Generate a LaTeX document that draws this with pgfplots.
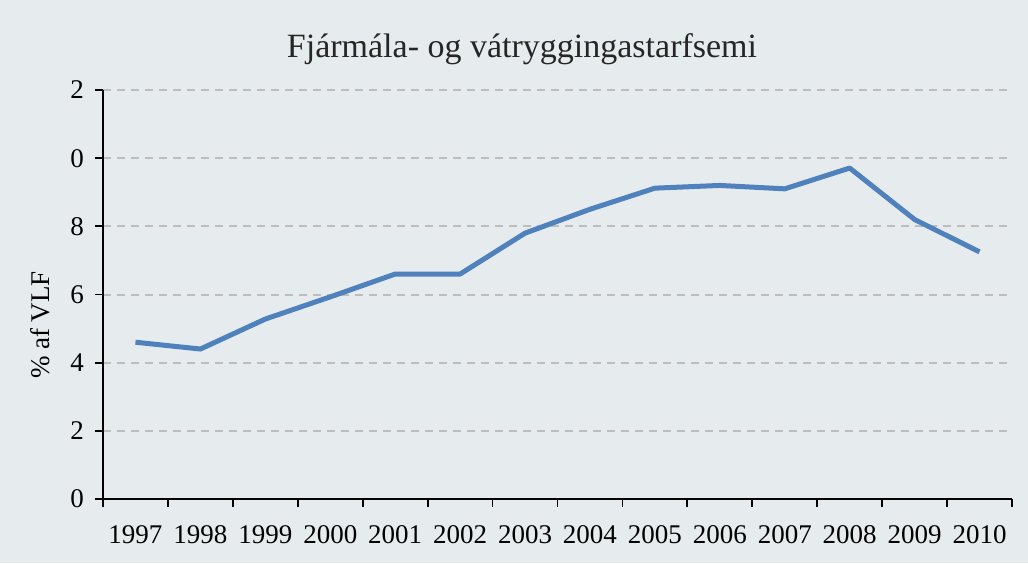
\documentclass[border=0pt]{standalone}
\usepackage{pgfplots}
\pgfplotsset{compat=1.18}
\usepackage{fontspec}
\setmainfont{Liberation Serif}
\definecolor{bg}{HTML}{E6EBEE}
\definecolor{line}{HTML}{4F81BD}
\definecolor{gridc}{HTML}{BDBDBD}

\begin{document}
\begin{tikzpicture}
\fill[bg] (-51.5pt,-32pt) rectangle (462.5pt,249.5pt);
\path[use as bounding box] (-51.5pt,-32pt) rectangle (462.5pt,249.5pt);
\begin{axis}[
    at={(0,0)}, anchor=south west,
    width=454.5pt, height=204.5pt,
    scale only axis,
    xmin=-0.5, xmax=13.5,
    ymin=0, ymax=12,
    axis x line*=bottom,
    axis y line*=left,
    axis line style={black, line width=0.9pt, -},
    xtick={0,...,13},
    xticklabels={1997,1998,1999,2000,2001,2002,2003,2004,2005,2006,2007,2008,2009,2010},
    major x tick style={draw=none},
    minor xtick={-0.5,0.5,...,13.5},
    minor tick length=4pt,
    minor x tick style={black, line width=0.9pt},
    ytick={0,2,...,12},
    yticklabels={0,2,4,6,8,0,2},
    major tick length=4pt,
    y tick style={black, line width=0.9pt},
    tick align=outside,
    ymajorgrids,
    grid style={gridc, dashed, line width=1pt, dash pattern=on 4pt off 3pt},
    tick label style={font=\fontsize{13.5}{16}\selectfont},
    xticklabel style={yshift=-5pt, text height=9.5pt, text depth=2pt},
    yticklabel style={xshift=-2pt},
    clip=false,
]
\addplot[line, line width=2.5pt, line join=round] coordinates {
(0,4.6) (1,4.4) (2,5.28) (3,5.93) (4,6.6) (5,6.6) (6,7.8) (7,8.5)
(8,9.12) (9,9.2) (10,9.1) (11,9.71) (12,8.2) (13,7.25)};
\end{axis}
\node[font=\fontsize{17}{20}\selectfont, text=black!85] at (209.5pt,225pt) {Fjármála- og vátryggingastarfsemi};
\node[rotate=90, font=\fontsize{13.5}{16}\selectfont] at (-31.5pt,87pt) {\% af VLF};
\end{tikzpicture}
\end{document}
